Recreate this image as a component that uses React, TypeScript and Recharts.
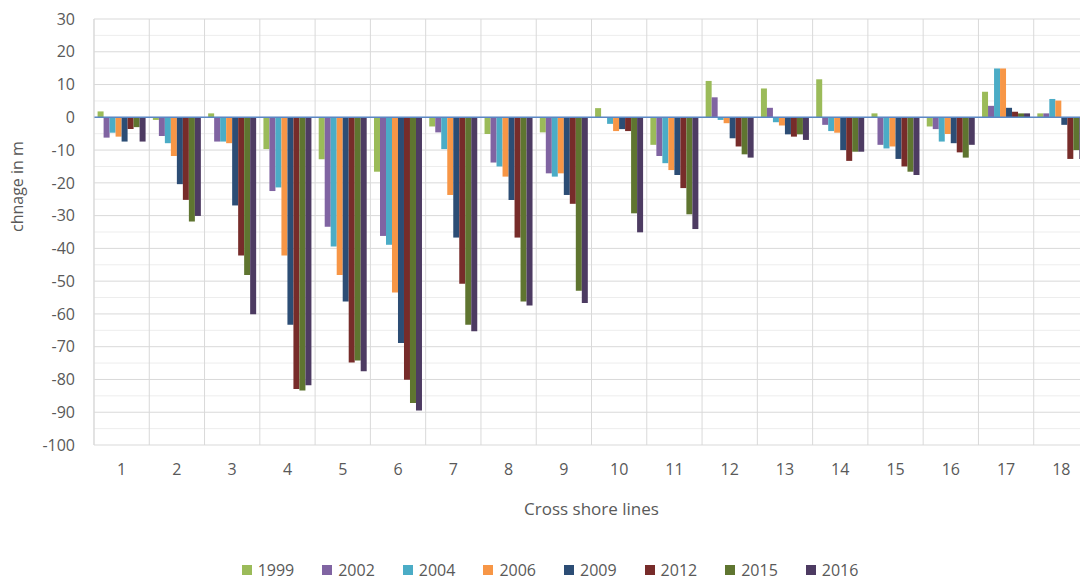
import React from 'react';
import { BarChart, Bar, XAxis, YAxis, CartesianGrid, Legend, ReferenceLine } from 'recharts';

const LINES = ['1', '2', '3', '4', '5', '6', '7', '8', '9', '10', '11', '12', '13', '14', '15', '16', '17', '18'];

const Y1999 = [1.8, -0.8, 1.2, -9.7, -12.8, -16.6, -2.8, -5.1, -4.6, 2.8, -8.4, 11.1, 8.8, 11.6, 1.2, -2.8, 7.8, 1.2];
const Y2002 = [-6.2, -5.7, -7.4, -22.5, -33.4, -36.2, -4.6, -13.8, -17.1, -0.2, -11.8, 6.1, 2.9, -2.3, -8.4, -3.6, 3.5, 1.2];
const Y2004 = [-4.7, -7.9, -7.4, -21.4, -39.4, -38.9, -9.7, -15.0, -18.1, -2.0, -14.0, -0.8, -1.5, -4.2, -9.5, -7.4, 14.9, 5.6];
const Y2006 = [-5.9, -11.8, -7.9, -42.2, -48.1, -53.5, -23.7, -18.1, -17.1, -4.2, -16.1, -1.8, -2.5, -4.7, -8.9, -5.1, 14.9, 5.1];
const Y2009 = [-7.4, -20.4, -26.9, -63.3, -56.2, -68.9, -36.7, -25.2, -23.7, -3.6, -17.6, -6.4, -5.2, -10.0, -12.7, -7.9, 2.9, -2.3];
const Y2012 = [-3.6, -25.2, -42.2, -82.9, -74.8, -80.1, -50.8, -36.7, -26.4, -4.2, -21.6, -8.9, -5.9, -13.3, -15.0, -10.7, 1.7, -12.7];
const Y2015 = [-3.0, -31.8, -48.1, -83.4, -74.2, -87.2, -63.3, -56.2, -52.9, -29.3, -29.6, -11.3, -5.2, -10.5, -16.6, -12.3, 1.2, -10.0];
const Y2016 = [-7.4, -30.1, -60.1, -81.8, -77.5, -89.5, -65.3, -57.4, -56.7, -35.1, -34.1, -12.3, -6.9, -10.5, -17.6, -8.4, 1.2, -12.7];

const Y_TICKS = [30, 20, 10, 0, -10, -20, -30, -40, -50, -60, -70, -80, -90, -100];
const MINOR = [25, 15, 5, -5, -15, -25, -35, -45, -55, -65, -75, -85, -95];

const SERIES = [
  { key: 'y1999', name: '1999', color: '#9BBB59', values: Y1999 },
  { key: 'y2002', name: '2002', color: '#8064A2', values: Y2002 },
  { key: 'y2004', name: '2004', color: '#4BACC6', values: Y2004 },
  { key: 'y2006', name: '2006', color: '#F79646', values: Y2006 },
  { key: 'y2009', name: '2009', color: '#2C4D75', values: Y2009 },
  { key: 'y2012', name: '2012', color: '#772C2A', values: Y2012 },
  { key: 'y2015', name: '2015', color: '#5F7530', values: Y2015 },
  { key: 'y2016', name: '2016', color: '#4D3B62', values: Y2016 },
];

const data = LINES.map((line, i) => {
  const row: Record<string, string | number> = { line };
  SERIES.forEach((s) => {
    row[s.key] = s.values[i];
  });
  return row;
});

const textColor = '#595959';

const LegendBox = () => (
  <div style={{ display: 'flex', justifyContent: 'center', gap: 28, fontSize: 16, color: textColor, lineHeight: '22px' }}>
    {SERIES.map((s) => (
      <div key={s.key} style={{ display: 'flex', alignItems: 'center', gap: 6 }}>
        <span style={{ width: 10, height: 10, background: s.color, display: 'inline-block' }} />
        <span>{s.name}</span>
      </div>
    ))}
  </div>
);

const App: React.FC = () => {
  return (
    <div style={{ position: 'absolute', left: 0, top: 0, width: 1080, height: 581, overflow: 'hidden', background: '#fff', fontFamily: 'Open Sans' }}>
      <BarChart width={1100} height={581} data={data} margin={{ top: 19, right: 11, bottom: 0, left: 0 }} barCategoryGap="6.5%" barGap={0}>
        {/* lighter minor lines every 5, then the main grid on top */}
        <CartesianGrid stroke="#EDEDED" vertical={false} horizontalValues={MINOR} />
        <CartesianGrid
          stroke="#D9D9D9"
          verticalCoordinatesGenerator={({ offset }: any) =>
            LINES.map((_, i) => offset.left + (i * offset.width) / LINES.length).concat(offset.left + offset.width)
          }
        />
        <XAxis
          dataKey="line"
          axisLine={false}
          tickLine={false}
          tickSize={0}
          tickMargin={19}
          height={100}
          tick={{ fill: textColor, fontSize: 16 }}
          label={{ value: 'Cross shore lines', position: 'insideBottom', offset: 30, fill: textColor, fontSize: 17 }}
        />
        <YAxis
          domain={[-100, 30]}
          ticks={Y_TICKS}
          interval={0}
          width={94}
          axisLine={{ stroke: '#D9D9D9' }}
          tickLine={false}
          tickSize={0}
          tickMargin={19}
          tick={{ fill: textColor, fontSize: 16 }}
          label={{ value: 'chnage in m', angle: -90, position: 'insideLeft', offset: 17, fill: textColor, fontSize: 16 }}
        />
        {SERIES.map((s) => (
          <Bar key={s.key} dataKey={s.key} name={s.name} fill={s.color} isAnimationActive={false} />
        ))}
        <ReferenceLine y={0} stroke="#5B87C5" strokeWidth={1.5} />
        <Legend verticalAlign="bottom" height={36} content={() => <LegendBox />} wrapperStyle={{ left: 0, width: 1100, top: 559 }} />
      </BarChart>
    </div>
  );
};

export default App;
